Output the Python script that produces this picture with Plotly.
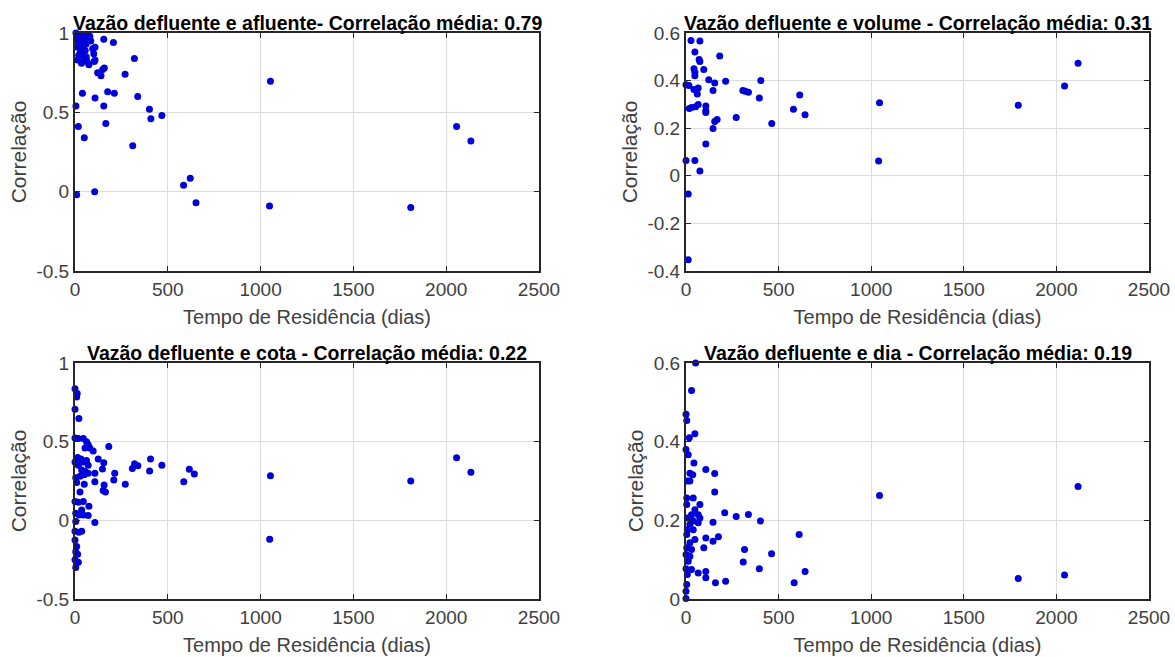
import plotly.graph_objects as go

# ---------------- data ----------------
titles = [
    "Vazão defluente e afluente- Correlação média: 0.79",
    "Vazão defluente e volume - Correlação média: 0.31",
    "Vazão defluente e cota - Correlação média: 0.22",
    "Vazão defluente e dia - Correlação média: 0.19",
]

# 1) afluente
x_afl = [5, 10, 15, 20, 25, 30, 35, 40, 45, 50, 55, 60, 65, 70, 80, 85, 8, 18, 28, 38, 48, 60,
         15, 30, 45, 55, 20, 60, 35, 50, 65, 75, 14, 32, 59,
         155, 207, 95, 101, 104, 320, 158, 149, 122, 140, 270, 108, 108,
         40, 108, 176, 212, 338, 155, 5, 401, 409, 468, 166, 18, 50, 311,
         585, 621, 652, 1048, 9, 106, 1053, 2056, 2133, 1809]
y_afl = [1.00, 0.99, 0.98, 0.99, 0.97, 0.96, 0.98, 0.99, 0.97, 0.95, 0.99, 0.98, 0.96, 0.97, 0.98, 0.95, 0.96, 0.94, 0.93, 0.95, 0.92, 0.93,
         0.91, 0.88, 0.86, 0.89, 0.86, 0.85, 0.81, 0.83, 0.82, 0.80, 0.83, 0.89, 0.84,
         0.96, 0.94, 0.90, 0.87, 0.82, 0.84, 0.78, 0.77, 0.75, 0.73, 0.74, 0.91, 0.83,
         0.62, 0.59, 0.63, 0.62, 0.60, 0.54, 0.54, 0.52, 0.46, 0.48, 0.43, 0.41, 0.34, 0.29,
         0.04, 0.085, -0.07, -0.09, -0.02, 0.00, 0.696, 0.41, 0.32, -0.10]

# 2) volume
x_vol = [27, 75, 48, 71, 75, 182, 43, 96, 48, 48, 0, 16, 123, 155, 214, 404, 43, 66, 61, 146,
         307, 320, 337, 396, 614, 580, 643, 18, 30, 52, 66, 107, 107, 107, 271, 168, 155, 146,
         463, 107, 0, 48, 75, 12, 12, 1045, 1040, 1794, 2044, 2117]
y_vol = [0.569, 0.566, 0.52, 0.489, 0.48, 0.503, 0.45, 0.447, 0.435, 0.42, 0.383, 0.379, 0.404, 0.39, 0.397, 0.40, 0.363, 0.369, 0.344, 0.358,
         0.358, 0.355, 0.351, 0.327, 0.34, 0.28, 0.256, 0.283, 0.287, 0.29, 0.30, 0.293, 0.273, 0.266, 0.245, 0.237, 0.228, 0.199,
         0.22, 0.134, 0.064, 0.064, 0.02, -0.076, -0.353, 0.307, 0.062, 0.296, 0.377, 0.473]

# 3) cota
x_cot = [0, 12, 9, 0, 21, 0, 18, 45, 62, 71, 54, 80, 98, 182, 125, 155, 148, 14, 32, 0, 45, 62, 71, 18, 36, 54,
         4, 27, 50, 71, 107, 107, 214, 209, 157, 152, 164, 271, 321, 339, 309, 407, 402, 468, 616, 643, 586,
         9, 27, 50, 0, 18, 45, 75, 36, 4, 21, 45, 71, 4, 107, 0, 21, 36, 0, 9, 4, 14, 0, 18, 4,
         1053, 1049, 2056, 2133, 1809]
y_cot = [0.837, 0.806, 0.784, 0.706, 0.647, 0.524, 0.52, 0.52, 0.50, 0.48, 0.46, 0.46, 0.44, 0.47, 0.39, 0.366, 0.326, 0.40, 0.39, 0.37, 0.37, 0.38, 0.35, 0.35, 0.32, 0.31,
         0.27, 0.28, 0.29, 0.30, 0.30, 0.245, 0.30, 0.256, 0.224, 0.19, 0.18, 0.23, 0.36, 0.347, 0.33, 0.39, 0.313, 0.35, 0.325, 0.294, 0.245,
         0.24, 0.18, 0.23, 0.12, 0.115, 0.12, 0.09, 0.066, 0.045, 0.034, 0.034, 0.03, -0.008, -0.013, -0.07, -0.076, -0.07, -0.125, -0.167, -0.20, -0.215, -0.25, -0.266, -0.30,
         0.283, -0.12, 0.398, 0.306, 0.25]

# 4) dia
x_dia = [52, 30, 0, 4, 48, 18, 0, 12, 43, 107, 155, 21, 36, 7, 21, 155, 39, 4, 4, 75, 48, 30, 66, 209, 271, 337, 402, 146,
         7, 75, 39, 21, 66, 7, 39, 4, 48, 107, 146, 175, 21, 4, 96, 30, 0, 21, 316, 309, 462, 611,
         12, 0, 30, 66, 107, 396, 643, 7, 107, 159, 214, 584, 4, 0, 0,
         1045, 2117, 1794, 2044]
y_dia = [0.60, 0.53, 0.47, 0.454, 0.42, 0.41, 0.38, 0.367, 0.346, 0.329, 0.319, 0.32, 0.316, 0.30, 0.30, 0.272, 0.257, 0.257, 0.24, 0.24, 0.227, 0.214, 0.214, 0.219, 0.21, 0.215, 0.198, 0.195,
         0.206, 0.206, 0.198, 0.19, 0.194, 0.176, 0.176, 0.164, 0.151, 0.155, 0.147, 0.158, 0.143, 0.13, 0.13, 0.126, 0.113, 0.109, 0.126, 0.094, 0.115, 0.164,
         0.096, 0.077, 0.075, 0.066, 0.07, 0.077, 0.07, 0.062, 0.054, 0.041, 0.045, 0.041, 0.037, 0.02, 0.001,
         0.263, 0.286, 0.052, 0.061]

xs = [x_afl, x_vol, x_cot, x_dia]
ys = [y_afl, y_vol, y_cot, y_dia]

# axis ticks
x_range = [0, 2500]
x_tickvals = [0, 500, 1000, 1500, 2000, 2500]
y_ranges = [[-0.5, 1], [-0.4, 0.6], [-0.5, 1], [0, 0.6]]
y_tickvals_a = [-0.5, 0, 0.5, 1]
y_ticktext_a = ["-0.5", "0", "0.5", "1"]
y_tickvals_b = [-0.4, -0.2, 0, 0.2, 0.4, 0.6]
y_ticktext_b = ["-0.4", "-0.2", "0", "0.2", "0.4", "0.6"]
y_tickvals_c = [0, 0.2, 0.4, 0.6]
y_ticktext_c = ["0", "0.2", "0.4", "0.6"]
y_ticks = [(y_tickvals_a, y_ticktext_a), (y_tickvals_b, y_ticktext_b),
           (y_tickvals_a, y_ticktext_a), (y_tickvals_c, y_ticktext_c)]
x_label = "Tempo de Residência (dias)"
y_label = "Correlação"

# ---------------- layout ----------------
W, H = 1175, 657


def px_x(p):
    return p / W


def px_y(p):
    return 1 - p / H


xdom = [[px_x(75), px_x(539)], [px_x(686), px_x(1149)]]
ydom_top = [px_y(271), px_y(33)]
ydom_bot = [px_y(599), px_y(363)]
doms = [(xdom[0], ydom_top), (xdom[1], ydom_top), (xdom[0], ydom_bot), (xdom[1], ydom_bot)]
title_y = [px_y(23), px_y(23), px_y(353), px_y(353)]

FONT = "Liberation Sans, Arial, sans-serif"
fig = go.Figure()
layout = dict(
    width=W, height=H,
    margin=dict(l=0, r=0, t=0, b=0, autoexpand=False),
    paper_bgcolor="white", plot_bgcolor="white",
    showlegend=False,
    font=dict(family=FONT, size=19, color="#262626"),
    annotations=[],
)

for i in range(4):
    sfx = "" if i == 0 else str(i + 1)
    fig.add_trace(go.Scatter(
        x=xs[i], y=ys[i], mode="markers",
        marker=dict(size=7, color="#0000d8"),
        cliponaxis=False,
        xaxis="x" + sfx, yaxis="y" + sfx,
    ))
    axcommon = dict(
        showline=True, linecolor="#262626", linewidth=2, mirror="ticks",
        ticks="inside", ticklen=5, tickcolor="#262626", tickwidth=1,
        showgrid=True, gridcolor="#dcdcdc", gridwidth=1,
        zeroline=False, automargin=False,
        tickfont=dict(family=FONT, size=19, color="#404040"),
    )
    layout["xaxis" + sfx] = dict(
        axcommon, domain=doms[i][0], range=x_range,
        tickmode="array", tickvals=x_tickvals, ticktext=[str(v) for v in x_tickvals],
        anchor="y" + sfx,
        title=dict(text=x_label, font=dict(family=FONT, size=20, color="#404040"), standoff=11),
    )
    layout["yaxis" + sfx] = dict(
        axcommon, domain=doms[i][1], range=y_ranges[i],
        tickmode="array", tickvals=y_ticks[i][0], ticktext=y_ticks[i][1],
        anchor="x" + sfx,
        title=dict(text=y_label, font=dict(family=FONT, size=21, color="#404040"), standoff=4),
    )
    layout["annotations"].append(dict(
        text="<b>" + titles[i] + "</b>", xref="paper", yref="paper",
        x=(doms[i][0][0] + doms[i][0][1]) / 2, y=title_y[i],
        xanchor="center", yanchor="middle", showarrow=False,
        font=dict(family=FONT, size=19.5, color="black"),
    ))

fig.update_layout(layout)
fig.write_html(
    "out.html",
    config={"displayModeBar": False},
    post_script="document.body.style.margin='0';document.body.style.overflow='hidden';",
)
